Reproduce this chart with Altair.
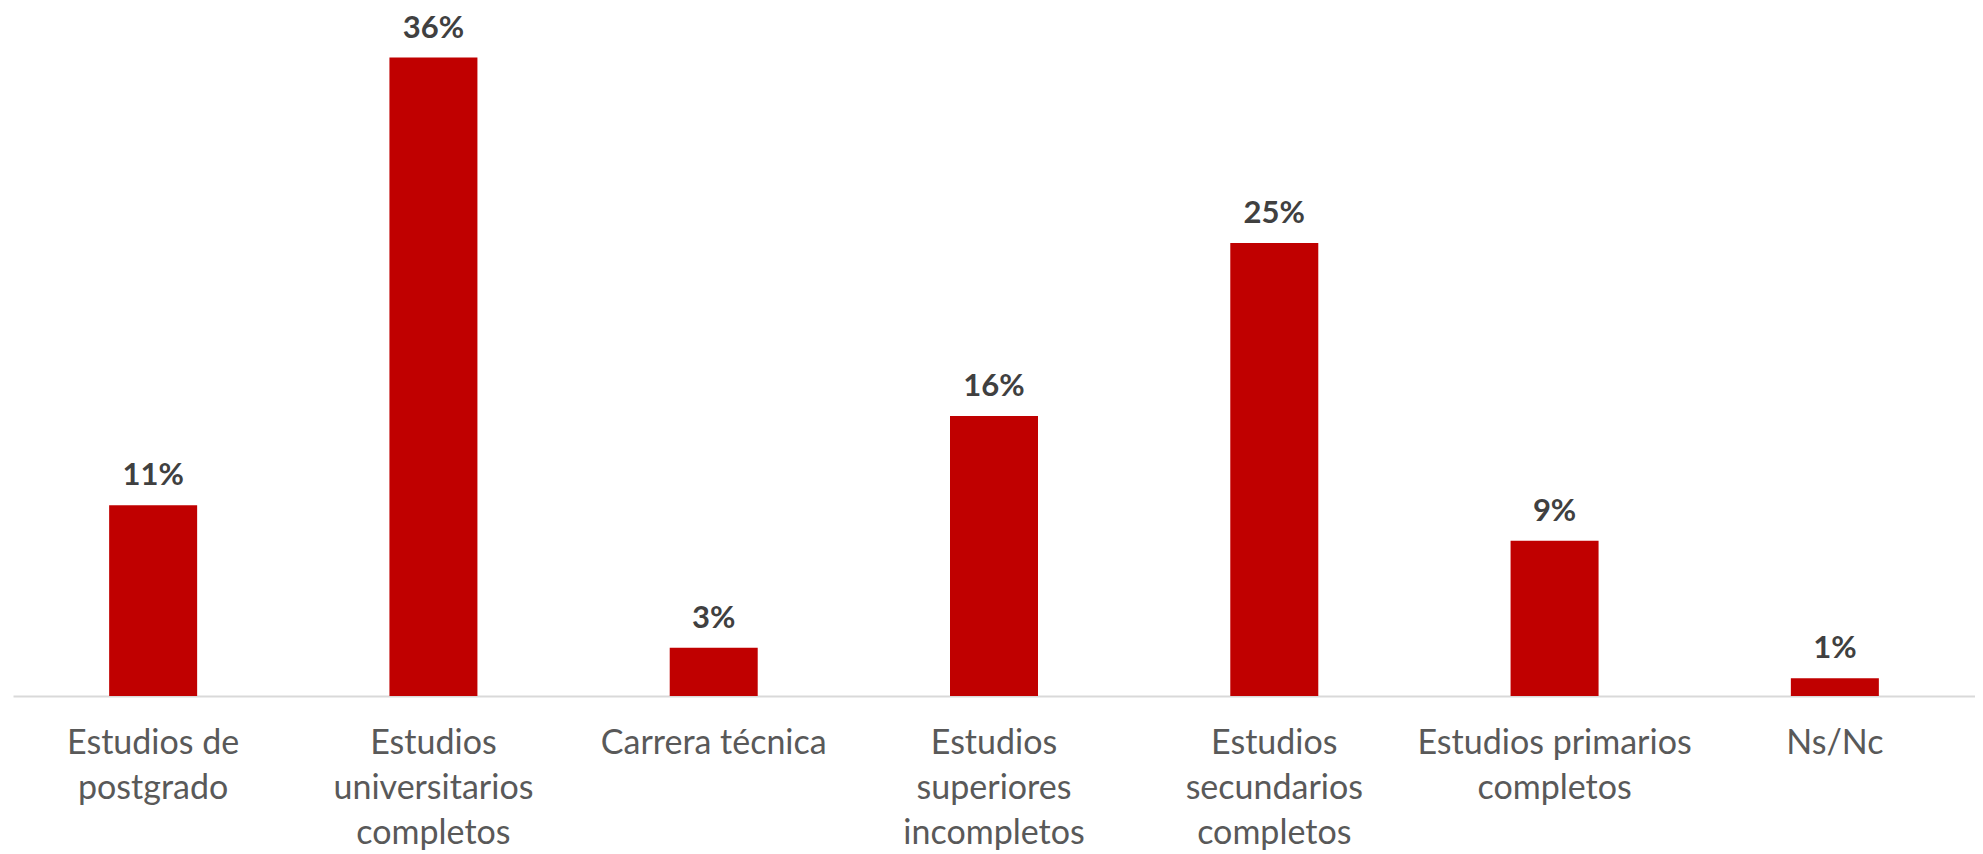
import altair as alt
import pandas as pd

categories = [
    "Estudios de\npostgrado",
    "Estudios\nuniversitarios\ncompletos",
    "Carrera técnica",
    "Estudios\nsuperiores\nincompletos",
    "Estudios\nsecundarios\ncompletos",
    "Estudios primarios\ncompletos",
    "Ns/Nc",
]
values = [0.107, 0.358, 0.027, 0.157, 0.254, 0.087, 0.010]

df = pd.DataFrame({"cat": categories, "val": values})

x = alt.X(
    "cat:N",
    sort=categories,
    title=None,
    scale=alt.Scale(paddingInner=0, paddingOuter=0),
    axis=alt.Axis(
        labelExpr="split(datum.label, '\\n')",
        labelAngle=0,
        labelFont="Lato",
        labelFontSize=34,
        labelLineHeight=45,
        labelColor="#595959",
        labelPadding=30,
        labelBaseline="top",
        labelLimit=0,
        ticks=False,
        domainColor="#D9D9D9",
        domainWidth=2,
        grid=False,
    ),
)
y = alt.Y("val:Q", scale=alt.Scale(domain=[0, 0.3791]), axis=None)

bars = alt.Chart(df).mark_bar(size=88, color="#C00000").encode(x=x, y=y)
text = alt.Chart(df).mark_text(
    font="Lato", fontSize=31, fontWeight="bold", color="#404040",
    baseline="alphabetic", dy=-20
).encode(x=x, y=y, text=alt.Text("val:Q", format=".0%"))

chart = (
    (bars + text)
    .properties(width=1962, height=676, padding={"left": 5, "top": 4, "right": 0, "bottom": 0})
    .configure_view(stroke=None)
)
chart.save("out.html", embed_options={"renderer": "svg", "actions": False})
